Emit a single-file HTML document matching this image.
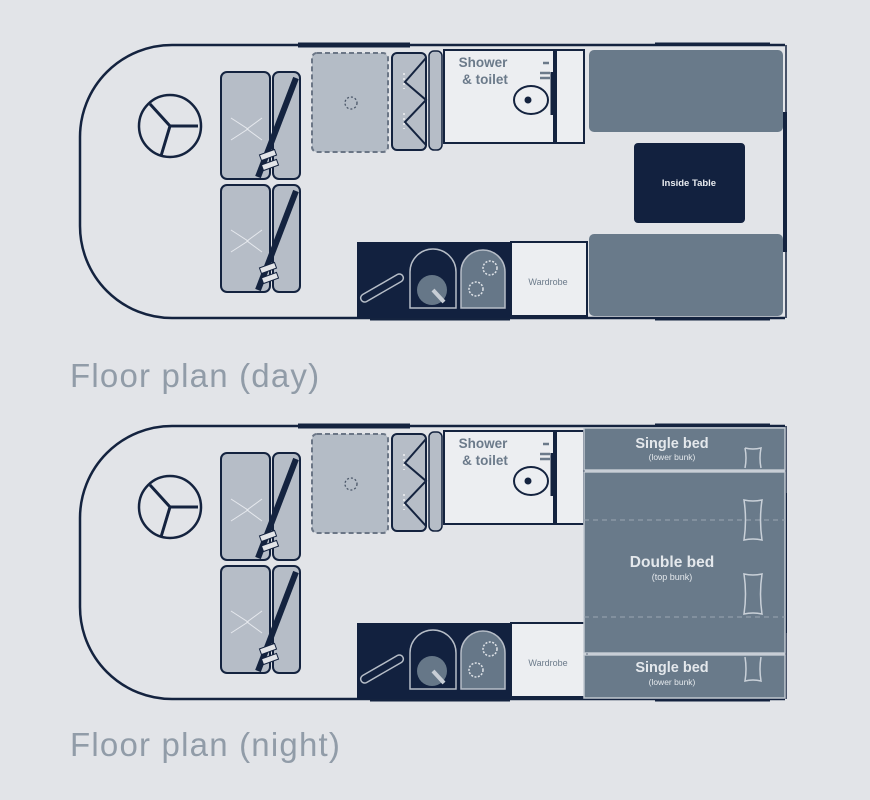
<!DOCTYPE html>
<html><head><meta charset="utf-8"><style>
html,body{margin:0;padding:0;background:#e2e4e8;}
svg{display:block}
text{font-family:"Liberation Sans",sans-serif;}
</style></head><body>
<svg width="870" height="800" viewBox="0 0 870 800" xmlns="http://www.w3.org/2000/svg">
<rect width="870" height="800" fill="#e2e4e8"/>
<defs>
<g id="common">
  <path d="M785,45 H172 A92,92 0 0 0 80,137 V226 A92,92 0 0 0 172,318 H785" fill="none" stroke="#14233f" stroke-width="2.5"/>
  <line x1="298" y1="45" x2="410" y2="45" stroke="#14233f" stroke-width="5"/>
  <line x1="655" y1="44" x2="770" y2="44" stroke="#14233f" stroke-width="3"/>
  <line x1="370" y1="318" x2="510" y2="318" stroke="#14233f" stroke-width="5"/>
  <line x1="655" y1="319" x2="770" y2="319" stroke="#14233f" stroke-width="3"/>
  <line x1="786" y1="45" x2="786" y2="318" stroke="#14233f" stroke-width="1.5"/>
  <line x1="785" y1="112" x2="785" y2="252" stroke="#14233f" stroke-width="4"/>
  <circle cx="170" cy="126" r="31" fill="none" stroke="#14233f" stroke-width="2.5"/>
  <path d="M170,126 L150,104 M170,126 L198,126 M170,126 L161,156" stroke="#14233f" stroke-width="3" fill="none"/>
  <g fill="#b6bdc7" stroke="#14233f" stroke-width="2">
    <rect x="221" y="72" width="49" height="107" rx="6"/>
    <rect x="273" y="72" width="27" height="107" rx="6"/>
    <rect x="221" y="185" width="49" height="107" rx="6"/>
    <rect x="273" y="185" width="27" height="107" rx="6"/>
  </g>
  <path d="M231,118 L248,129 L231,140 M262,118 L247,129 L262,140" stroke="#e6e9ee" stroke-width="1" fill="none"/>
  <path d="M231,230 L248,241 L231,252 M262,230 L247,241 L262,252" stroke="#e6e9ee" stroke-width="1" fill="none"/>
  <line x1="296" y1="78" x2="258" y2="177" stroke="#14233f" stroke-width="6"/>
  <line x1="296" y1="191" x2="258" y2="290" stroke="#14233f" stroke-width="6"/>
  <rect x="260" y="152" width="16" height="6" fill="#e2e4e8" stroke="#14233f" transform="rotate(-20 268 155)"/>
  <rect x="262" y="162" width="16" height="6" fill="#e2e4e8" stroke="#14233f" transform="rotate(-20 270 165)"/>
  <rect x="260" y="265" width="16" height="6" fill="#e2e4e8" stroke="#14233f" transform="rotate(-20 268 268)"/>
  <rect x="262" y="275" width="16" height="6" fill="#e2e4e8" stroke="#14233f" transform="rotate(-20 270 278)"/>
  <rect x="312" y="53" width="76" height="99" rx="5" fill="#b4bcc6" stroke="#6b7686" stroke-width="2" stroke-dasharray="5,3"/>
  <circle cx="351" cy="103" r="6" fill="none" stroke="#4a5668" stroke-width="1.3" stroke-dasharray="2,2"/>
  <rect x="392" y="53" width="34" height="97" rx="5" fill="#b6bdc7" stroke="#14233f" stroke-width="2"/>
  <rect x="429" y="51" width="13" height="99" rx="5" fill="#b6bdc7" stroke="#14233f" stroke-width="1.5"/>
  <path d="M426,58 L405,82 L426,100 L405,122 L426,145" fill="none" stroke="#14233f" stroke-width="2"/>
  <path d="M404,73 v16 M404,113 v16" stroke="#e2e4e8" stroke-width="2" stroke-dasharray="2,3"/>
  <rect x="444" y="50" width="110" height="93" fill="#eceef1" stroke="#14233f" stroke-width="2"/>
  <rect x="556" y="50" width="28" height="93" fill="#eceef1" stroke="#14233f" stroke-width="2"/>
  <line x1="552" y1="72" x2="552" y2="115" stroke="#14233f" stroke-width="3"/>
  <ellipse cx="531" cy="100" rx="17" ry="14" fill="none" stroke="#14233f" stroke-width="2"/>
  <circle cx="528" cy="100" r="3.5" fill="#14233f"/>
  <path d="M543,63 h6 M540,73 h10 M540,78 h10" stroke="#6b7a8a" stroke-width="2.5"/>
  <rect x="357" y="242" width="153" height="76" fill="#12213f"/>
  <rect x="358" y="284" width="48" height="8" rx="4" fill="none" stroke="#b6bdc7" stroke-width="1.5" transform="rotate(-30 382 288)"/>
  <path d="M410,308 V272 A23,23 0 0 1 456,272 V308 Z" fill="none" stroke="#b6bdc7" stroke-width="1.5"/>
  <circle cx="432" cy="290" r="15" fill="#667788"/>
  <line x1="433" y1="290" x2="444" y2="302" stroke="#c8ced6" stroke-width="4"/>
  <path d="M461,308 V272 A22,22 0 0 1 505,272 V308 Z" fill="#667788" stroke="#b6bdc7" stroke-width="1.5"/>
  <circle cx="490" cy="268" r="7" fill="none" stroke="#dfe3e8" stroke-width="1.5" stroke-dasharray="2,1.5"/>
  <circle cx="476" cy="289" r="7" fill="none" stroke="#dfe3e8" stroke-width="1.5" stroke-dasharray="2,1.5"/>
  <rect x="511" y="242" width="76" height="74" fill="#eceef1" stroke="#14233f" stroke-width="2"/>
</g>
</defs>

<use href="#common"/>
<rect x="589" y="50" width="194" height="82" rx="5" fill="#697a8a"/>
<rect x="589" y="234" width="194" height="82" rx="5" fill="#697a8a"/>
<rect x="634" y="143" width="111" height="80" rx="4" fill="#12213f"/>
<text x="689" y="186" fill="#e8ebef" font-size="9.5" font-weight="bold" text-anchor="middle">Inside Table</text>
<text x="483" y="67" fill="#6b7a8a" font-size="13.5" font-weight="bold" text-anchor="middle">Shower</text>
<text x="485" y="84" fill="#6b7a8a" font-size="13.5" font-weight="bold" text-anchor="middle">&amp; toilet</text>
<text x="548" y="285" fill="#6b7a8a" font-size="9" text-anchor="middle">Wardrobe</text>
<text x="70" y="387" fill="#919ca8" font-size="33" letter-spacing="1.2">Floor plan (day)</text>

<use href="#common" transform="translate(0,381)"/>
<g fill="#697a8a" stroke="#c0c7cf" stroke-width="1.5">
  <rect x="584" y="428" width="201" height="42"/>
  <rect x="584" y="472" width="201" height="181"/>
  <rect x="584" y="655" width="201" height="43"/>
</g>
<path d="M584,520 H785 M584,617 H785" stroke="#9aa6b2" stroke-width="1" stroke-dasharray="5,4"/>
<g fill="none" stroke="#c9d0d8" stroke-width="1.5">
  <path d="M745,448 q8,2 16,0 q-2,10 0,20 M745,448 q2,10 0,20"/>
  <path d="M744,500 q9,2 18,0 q-3,20 0,40 q-9,-2 -18,0 q3,-20 0,-40Z"/>
  <path d="M744,574 q9,2 18,0 q-3,20 0,40 q-9,-2 -18,0 q3,-20 0,-40Z"/>
  <path d="M745,657 q2,12 0,24 q8,-2 16,0 q-2,-12 0,-24"/>
</g>
<text x="672" y="448" fill="#e4e8ec" font-size="14.5" font-weight="bold" text-anchor="middle">Single bed</text>
<text x="672" y="460" fill="#e4e8ec" font-size="8.5" text-anchor="middle">(lower bunk)</text>
<text x="672" y="567" fill="#e4e8ec" font-size="15.5" font-weight="bold" text-anchor="middle">Double bed</text>
<text x="672" y="580" fill="#e4e8ec" font-size="9" text-anchor="middle">(top bunk)</text>
<text x="672" y="672" fill="#e4e8ec" font-size="14.5" font-weight="bold" text-anchor="middle">Single bed</text>
<text x="672" y="685" fill="#e4e8ec" font-size="8.5" text-anchor="middle">(lower bunk)</text>
<text x="483" y="448" fill="#6b7a8a" font-size="13.5" font-weight="bold" text-anchor="middle">Shower</text>
<text x="485" y="465" fill="#6b7a8a" font-size="13.5" font-weight="bold" text-anchor="middle">&amp; toilet</text>
<text x="548" y="666" fill="#6b7a8a" font-size="9" text-anchor="middle">Wardrobe</text>
<text x="70" y="756" fill="#919ca8" font-size="33" letter-spacing="1.2">Floor plan (night)</text>
</svg>
</body></html>
